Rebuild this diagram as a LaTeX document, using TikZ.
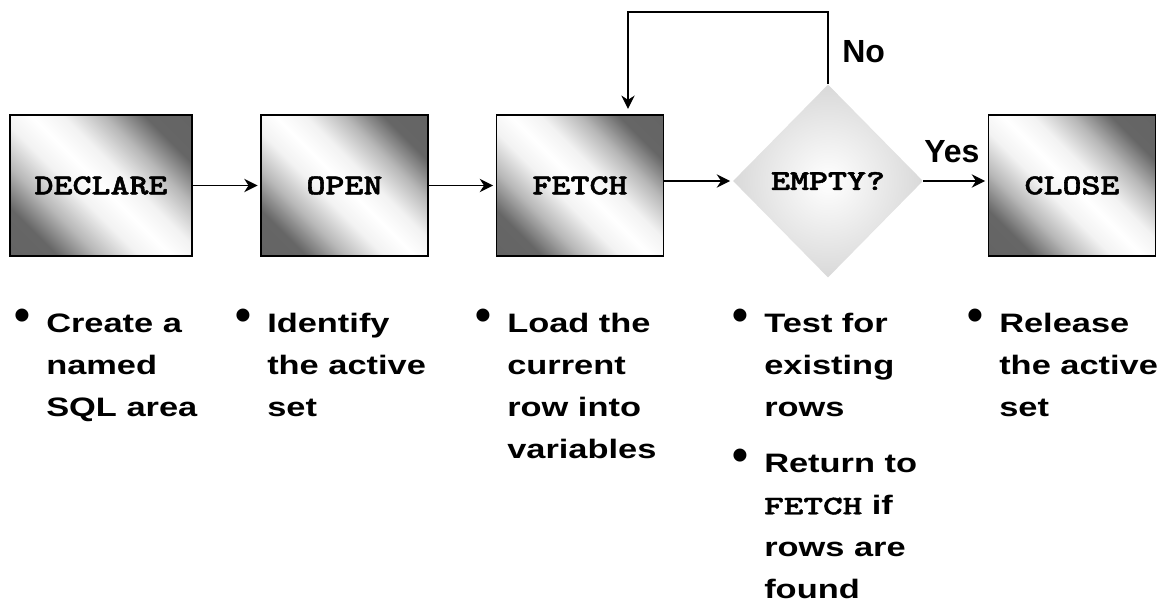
\documentclass[tikz,border=0pt]{standalone}
\usepackage{fontspec}
\setmainfont{Liberation Sans}
\newfontfamily\bulfont{Liberation Sans}[FakeStretch=1.29]
\newfontfamily\kwfont{lmmonolt10-bold.otf}[FakeBold=1.5]
\usetikzlibrary{shapes.geometric,arrows.meta}
\pgfdeclareverticalshading{stageshade}{100bp}{color(0bp)=(black!62); color(25bp)=(black!60);
	color(34bp)=(black!28); color(43bp)=(black!5); color(50bp)=(white); color(57bp)=(black!5);
	color(66bp)=(black!28); color(75bp)=(black!60); color(100bp)=(black!62)}
\newcommand{\kw}[2][1.25]{\scalebox{#1}[1]{\kwfont #2}}
\newcommand{\bul}{\llap{\makebox[36pt]{\raisebox{1.5pt}{\normalfont\bfseries\fontsize{34pt}{34pt}\selectfont\textbullet}}}}
\begin{document}
\begin{tikzpicture}[x=0.75pt,y=-0.75pt,
	stage/.style={draw,line width=1.2pt,minimum width=125.25pt,minimum height=105.75pt,
		shading=stageshade,shading angle=-45,font=\fontsize{21.7pt}{26pt}\selectfont},
	test/.style={diamond,inner sep=0,minimum width=142.5pt,minimum height=144.75pt,
		inner color=white,outer color=black!15,font=\fontsize{21.7pt}{26pt}\selectfont},
	flow/.style={-{Stealth[length=10pt,width=10pt]},line width=1.1pt,shorten >=2pt},
	answer/.style={anchor=base west,inner sep=0,font=\bfseries\fontsize{24pt}{28pt}\selectfont},
	note/.style={anchor=north west,inner sep=0,font=\bulfont\bfseries\fontsize{20pt}{31.5pt}\selectfont}]
\useasboundingbox (0,0) rectangle (1163,602);
\node (declare) [stage,minimum width=136.5pt] at (101,185.5) {\kw{DECLARE}};
\node (open) [stage] at (344.5,185.5) {\kw{OPEN}};
\node (fetch) [stage] at (580,185.5) {\kw{FETCH}};
\node (empty) [test] at (828,181) {\raisebox{-6pt}{\kw{EMPTY?}}};
\node (close) [stage] at (1072,185.5) {\kw{CLOSE}};
\coordinate (back) at (628,12);
\draw[flow] (declare.east) -- (open.west);
\draw[flow] (open.east) -- (fetch.west);
\draw[flow] (fetch.east |- empty.west) -- (empty.west);
\draw[flow] (empty.east) -- (close.west |- empty.east);
\draw[flow,shorten >=4pt] (empty.north) |- (back) -- (back |- fetch.north);
\node (nolbl) [answer] at (842,63) {No};
\node (yeslbl) [answer] at (924,163) {Yes};
\node (declnote) [note] at (46,302.6) {\begin{tabular}{@{}l@{}}\bul Create a\\named\\SQL area\end{tabular}};
\node (opennote) [note] at (267,302.6) {\begin{tabular}{@{}l@{}}\bul Identify\\the active\\set\end{tabular}};
\node (fetchnote) [note] at (507,302.6) {\begin{tabular}{@{}l@{}}\bul Load the\\current\\row into\\variables\end{tabular}};
\node (emptynote) [note] at (764,302.6) {\begin{tabular}{@{}l@{}}\bul Test for\\existing\\rows\\[10.5pt]\bul Return to\\\kw[1.4]{FETCH} if\\rows are\\found\end{tabular}};
\node (closenote) [note] at (999,302.6) {\begin{tabular}{@{}l@{}}\bul Release\\the active\\set\end{tabular}};
\end{tikzpicture}
\end{document}
